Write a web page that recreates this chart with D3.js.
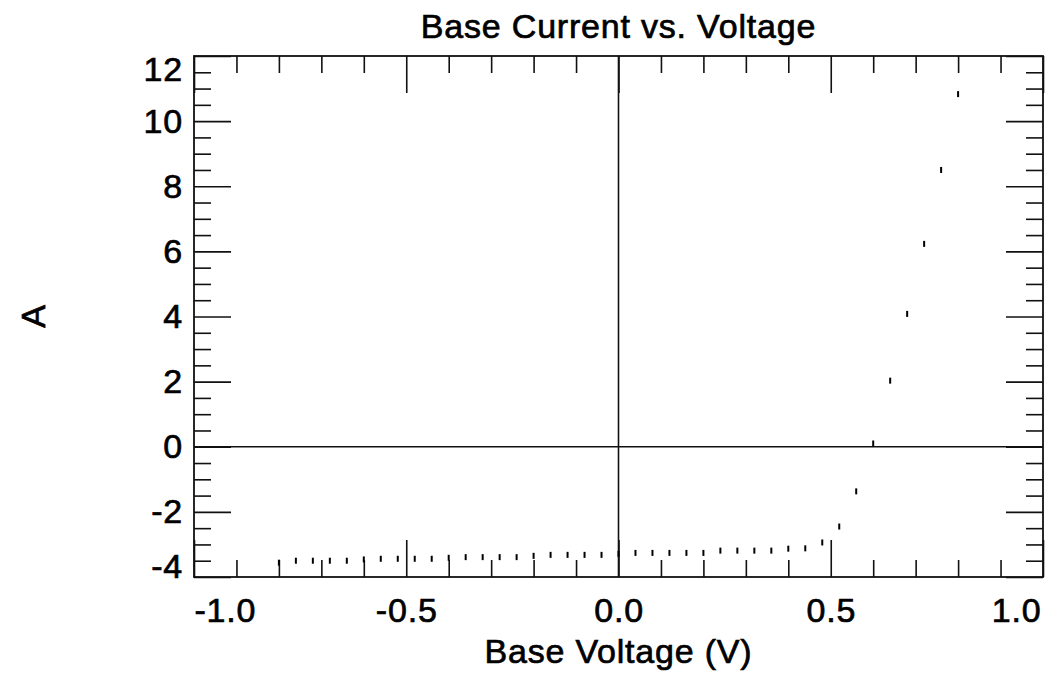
<!DOCTYPE html>
<html>
<head>
<meta charset="utf-8">
<script src="https://cdn.jsdelivr.net/npm/d3@7"></script>
<style>
  body { margin: 0; background: #fff; }
  svg text { font-family: "Liberation Sans", Arial, sans-serif; fill: #000;
             stroke: #000; stroke-width: 0.7px; letter-spacing: 0.8px; }
</style>
</head>
<body>
<div id="chart"></div>
<script>
// measured points: base voltage (V) and current (A)
var voltage = [-0.80, -0.76, -0.72, -0.68, -0.64, -0.60, -0.56, -0.52, -0.48, -0.44,
               -0.40, -0.36, -0.32, -0.28, -0.24, -0.20, -0.16, -0.12, -0.08, -0.04,
               0.00, 0.04, 0.08, 0.12, 0.16, 0.20, 0.24, 0.28, 0.32, 0.36,
               0.40, 0.44, 0.48, 0.52, 0.56, 0.60, 0.64, 0.68, 0.72, 0.76, 0.80];
var current = [-3.56, -3.50, -3.50, -3.50, -3.50, -3.46, -3.44, -3.44, -3.44, -3.44,
               -3.41, -3.39, -3.39, -3.39, -3.39, -3.35, -3.32, -3.32, -3.32, -3.32,
               -3.29, -3.26, -3.26, -3.26, -3.26, -3.26, -3.19, -3.19, -3.19, -3.19,
               -3.13, -3.12, -2.94, -2.45, -1.37, 0.10, 2.03, 4.08, 6.23, 8.50, 10.83];

var xMajor = [-1.0, -0.5, 0.0, 0.5, 1.0];
var xMinor = [-0.9, -0.8, -0.7, -0.6, -0.4, -0.3, -0.2, -0.1, 0.1, 0.2, 0.3, 0.4, 0.6, 0.7, 0.8, 0.9];
var yMajor = [-4, -2, 0, 2, 4, 6, 8, 10, 12];
var yMinor = [-3.5, -3, -2.5, -1.5, -1, -0.5, 0.5, 1, 1.5, 2.5, 3, 3.5, 4.5, 5, 5.5,
              6.5, 7, 7.5, 8.5, 9, 9.5, 10.5, 11, 11.5];

var titleText = "Base Current vs. Voltage";
var xLabel = "Base Voltage (V)";
var yLabel = "A";

var data = voltage.map((v, i) => ({ v: v, a: current[i] }));

// chart dimensions
var svg_width = 1047;
var svg_height = 674;
var margins = { top: 56, bottom: 97, left: 194, right: 4 };
var width = svg_width - margins.left - margins.right;
var height = svg_height - margins.top - margins.bottom;
var fontSize = "34px";

var svg = d3.select("#chart")
            .append("svg")
            .attr("width", svg_width)
            .attr("height", svg_height);

var g = svg.append("g")
           .attr("transform", "translate(" + margins.left + "," + margins.top + ")");

// scales
var x = d3.scaleLinear().domain([-1, 1]).range([0, width]);
var y = d3.scaleLinear().domain([-4, 12]).range([height, 0]);

// plain hyphen for negatives, like the original
var fmtX = d => d.toFixed(1);
var fmtY = d => String(d);

var minorLen = 17, majorLen = 37;
var lineColor = "#111";

function styleAxis(sel) {
  sel.select(".domain").remove();
  sel.selectAll("line").attr("stroke", lineColor).attr("stroke-width", 1.6);
}

// minor ticks on all four sides (pointing inward)
g.append("g").attr("transform", "translate(0," + height + ")")
  .call(d3.axisBottom(x).tickValues(xMinor).tickSize(-minorLen).tickFormat(""))
  .call(styleAxis);
g.append("g")
  .call(d3.axisTop(x).tickValues(xMinor).tickSize(-minorLen).tickFormat(""))
  .call(styleAxis);
g.append("g")
  .call(d3.axisLeft(y).tickValues(yMinor).tickSize(-minorLen).tickFormat(""))
  .call(styleAxis);
g.append("g").attr("transform", "translate(" + width + ",0)")
  .call(d3.axisRight(y).tickValues(yMinor).tickSize(-minorLen).tickFormat(""))
  .call(styleAxis);

// major ticks with labels
var xAxis = g.append("g")
  .attr("transform", "translate(0," + height + ")")
  .call(d3.axisBottom(x).tickValues(xMajor).tickSize(-majorLen).tickPadding(21).tickFormat(fmtX))
  .call(styleAxis);
xAxis.selectAll("text").style("font-size", fontSize);
xAxis.selectAll(".tick").filter(d => d === -1).select("text").attr("text-anchor", "start");
xAxis.selectAll(".tick").filter(d => d === 1).select("text").attr("text-anchor", "end").attr("x", -2);

g.append("g")
  .call(d3.axisTop(x).tickValues(xMajor).tickSize(-majorLen).tickFormat(""))
  .call(styleAxis);

var yAxis = g.append("g")
  .call(d3.axisLeft(y).tickValues(yMajor).tickSize(-majorLen).tickPadding(11).tickFormat(fmtY))
  .call(styleAxis);
yAxis.selectAll("text").style("font-size", fontSize);
yAxis.selectAll(".tick").filter(d => d === 12).select("text").attr("dy", "0.72em");
yAxis.selectAll(".tick").filter(d => d === -4).select("text").attr("dy", "0em");

g.append("g").attr("transform", "translate(" + width + ",0)")
  .call(d3.axisRight(y).tickValues(yMajor).tickSize(-majorLen).tickFormat(""))
  .call(styleAxis);

// zero lines
g.append("line")
  .attr("x1", 0).attr("x2", width)
  .attr("y1", y(0)).attr("y2", y(0))
  .attr("stroke", lineColor).attr("stroke-width", 1.6);
g.append("line")
  .attr("x1", x(0)).attr("x2", x(0))
  .attr("y1", 0).attr("y2", height)
  .attr("stroke", lineColor).attr("stroke-width", 1.6);

// frame
g.append("rect")
  .attr("x", 0).attr("y", 0)
  .attr("width", width).attr("height", height)
  .attr("fill", "none")
  .attr("stroke", lineColor)
  .attr("stroke-width", 1.8);

// data points drawn as small vertical dashes
g.append("g")
  .attr("class", "points")
  .selectAll("rect")
  .data(data)
  .enter()
  .append("rect")
  .attr("x", d => x(d.v) - 1)
  .attr("y", d => y(d.a) - 3)
  .attr("width", 2)
  .attr("height", 6)
  .attr("fill", "#000");

// title and axis labels
svg.append("text")
  .attr("x", margins.left + width / 2)
  .attr("y", 38)
  .attr("text-anchor", "middle")
  .style("font-size", fontSize)
  .text(titleText);

svg.append("text")
  .attr("x", margins.left + width / 2)
  .attr("y", 663)
  .attr("text-anchor", "middle")
  .style("font-size", fontSize)
  .text(xLabel);

svg.append("text")
  .attr("transform", "translate(33,316) rotate(-90)")
  .attr("text-anchor", "middle")
  .attr("dy", "0.36em")
  .style("font-size", fontSize)
  .text(yLabel);
</script>
</body>
</html>
